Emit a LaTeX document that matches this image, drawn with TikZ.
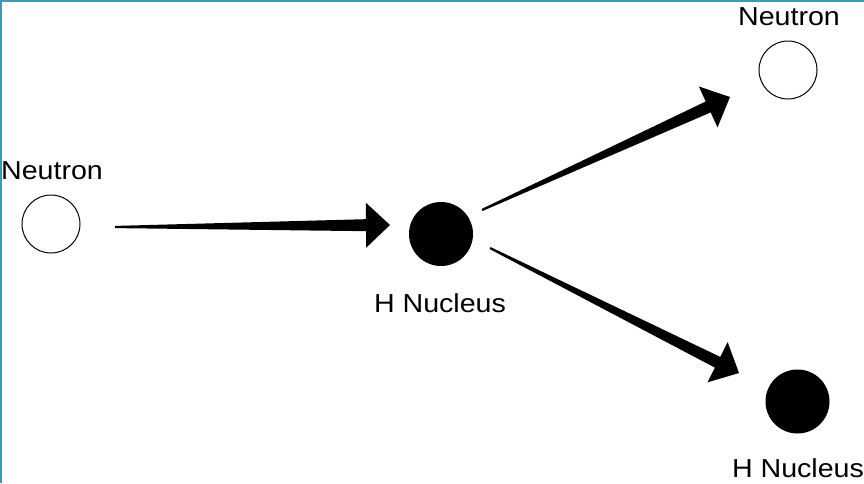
\documentclass[tikz,border=0pt]{standalone}
\usepackage{fontspec}
\setmainfont{Liberation Sans}[FakeStretch=1.1]
\usetikzlibrary{calc}
\definecolor{frame}{RGB}{60,154,178}
\definecolor{ink}{RGB}{0,0,0}

% Tapered arrow: thin tail at #1, widening shaft, triangular head with tip at #2
\newcommand\taperarrow[2]{%
  \path ($(#2)!24pt!(#1)$) coordinate (hb);
  \fill[ink] ($(#1)!1.1pt!90:(#2)$) -- ($(hb)!6pt!90:(#2)$) -- ($(hb)!22.5pt!90:(#2)$)
    -- (#2) -- ($(hb)!22.5pt!-90:(#2)$) -- ($(hb)!6pt!-90:(#2)$)
    -- ($(#1)!1.1pt!-90:(#2)$) -- cycle;
}

\tikzset{
  neutron/.style={circle, draw=ink, line width=1pt, fill=white, minimum size=58pt, inner sep=0pt},
  nucleus/.style={circle, fill=ink, minimum size=64pt, inner sep=0pt},
  caption/.style={anchor=base, inner sep=0pt, text=ink, font=\fontsize{26}{30}\selectfont},
}

\begin{document}
\begin{tikzpicture}[x=1pt, y=-1pt]
  \useasboundingbox (0,0) rectangle (864,483);
  \fill[white] (0,0) rectangle (864,483);
  % frame edges along the top and left
  \fill[frame] (0,0) rectangle (864,2.2);
  \fill[frame] (0,0) rectangle (1.8,483);

  % particles
  \node[neutron] (n1) at (51,224) {};
  \node[nucleus] (h1) at (441,234) {};
  \node[neutron] (n2) at (788,70) {};
  \node[nucleus] (h2) at (797.5,401.5) {};

  % captions
  \node[caption] (ln1) at (52,179) {Neutron};
  \node[caption] (lh1) at (440,312) {H Nucleus};
  \node[caption] (ln2) at (789,25) {Neutron};
  \node[caption] (lh2) at (798,477) {H Nucleus};

  % arrow end points
  \coordinate (a1s) at (115,227);
  \coordinate (a1e) at (390,225);
  \coordinate (a2s) at (482,210);
  \coordinate (a2e) at (730,97);
  \coordinate (a3s) at (490,248);
  \coordinate (a3e) at (739,373);

  \taperarrow{a1s}{a1e}
  \taperarrow{a2s}{a2e}
  \taperarrow{a3s}{a3e}
\end{tikzpicture}
\end{document}
